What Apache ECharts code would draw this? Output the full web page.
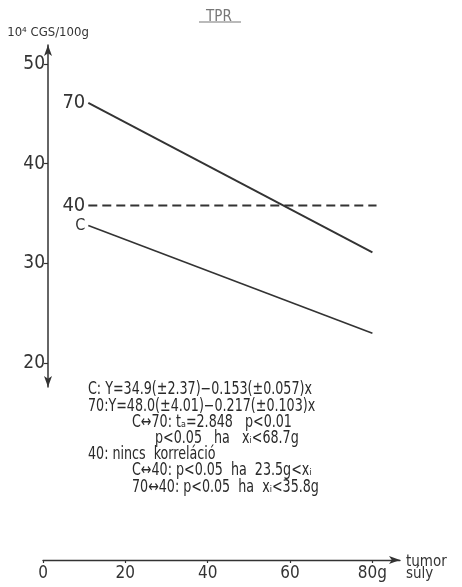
<!DOCTYPE html>
<html>
<head>
<meta charset="utf-8">
<script src="https://cdn.jsdelivr.net/npm/echarts@6/dist/echarts.min.js"></script>
<style>
  html, body { margin: 0; padding: 0; background: #ffffff; }
  #chart { width: 462px; height: 587px; }
</style>
</head>
<body>
<div id="chart"></div>
<script>
// Regression lines of TPR against tumour weight, per group
const groupNames = ['70', '40', 'C'];
const xStart = [11, 11, 11];        // g
const xEnd = [80, 81, 80];          // g
const yStart = [46.1, 35.8, 33.8];  // 10^4 CGS/100g
const yEnd = [31.1, 35.8, 23.0];

const yTicks = [20, 30, 40, 50];
const xTicks = [0, 20, 40, 60, 80];

const titleText = 'TPR';
const yName = '10⁴ CGS/100g';
const xName = 'tumor\nsúly';

// Statistics printed beneath the lines
const noteLines = [
  'C: Y=34.9(±2.37)−0.153(±0.057)x',
  '70:Y=48.0(±4.01)−0.217(±0.103)x',
  'C↔70: tₐ=2.848   p<0.01',
  'p<0.05   ha   xᵢ<68.7g',
  '40: nincs  korreláció',
  'C↔40: p<0.05  ha  23.5g<xᵢ',
  '70↔40: p<0.05  ha  xᵢ<35.8g'
];
const noteIndent = [0, 0, 1, 2, 0, 1, 1];

const ink = '#333333';
const font = "'DejaVu Sans Condensed', 'DejaVu Sans', sans-serif";

const series = groupNames.map((name, i) => ({
  name: name,
  type: 'line',
  xAxisIndex: 0,
  yAxisIndex: 0,
  symbol: 'circle',
  symbolSize: 0,
  showSymbol: true,
  silent: true,
  itemStyle: { color: ink },
  lineStyle: {
    color: ink,
    width: name === 'C' ? 1.6 : 1.9,
    type: name === '40' ? [9, 5] : 'solid'
  },
  label: { show: false },
  data: [
    {
      value: [xStart[i], yStart[i]],
      label: {
        show: true,
        position: 'left',
        distance: 3,
        formatter: name,
        color: ink,
        fontFamily: font,
        fontSize: name === 'C' ? 16 : 20
      }
    },
    [xEnd[i], yEnd[i]]
  ]
}));

const noteX = [88, 132, 155];
const noteY0 = 390, noteStep = 16.2;
const graphics = noteLines.map((t, i) => ({
  type: 'text',
  x: noteX[noteIndent[i]],
  y: noteY0 + i * noteStep,
  scaleX: 0.83,
  silent: true,
  style: {
    text: t,
    fill: '#2a2a2a',
    font: '17px ' + font,
    verticalAlign: 'middle',
    align: 'left'
  }
}));
// underline of the title
graphics.push({
  type: 'line',
  silent: true,
  shape: { x1: 199, y1: 22, x2: 241, y2: 22 },
  style: { stroke: '#777777', lineWidth: 1.2 }
});

const chart = echarts.init(document.getElementById('chart'), null, { renderer: 'canvas' });
chart.setOption({
  backgroundColor: '#ffffff',
  animation: false,
  title: {
    text: titleText,
    left: 201,
    top: 5,
    textStyle: { color: '#777777', fontFamily: font, fontSize: 15, fontWeight: 'normal' }
  },
  grid: [
    { left: 43, right: 62, top: 45, height: 342 },
    { left: 43, right: 62, top: 550, height: 10 }
  ],
  xAxis: [
    { type: 'value', gridIndex: 0, min: 0, max: 86.7, show: false },
    {
      type: 'value',
      gridIndex: 1,
      min: 0,
      max: 86.7,
      position: 'bottom',
      splitLine: { show: false },
      axisLine: {
        show: true,
        lineStyle: { color: ink, width: 1.4 },
        symbol: ['none', 'arrow'],
        symbolSize: [6, 11]
      },
      axisTick: { show: true, customValues: xTicks, length: 3, lineStyle: { color: ink, width: 1.2 } },
      axisLabel: {
        customValues: xTicks,
        margin: 5,
        color: ink,
        fontFamily: font,
        fontSize: 17,
        formatter: v => (v === 80 ? '80g' : String(v))
      },
      name: xName,
      nameLocation: 'end',
      nameGap: 6,
      nameTextStyle: {
        color: ink,
        fontFamily: font,
        fontSize: 15,
        lineHeight: 12,
        align: 'left',
        verticalAlign: 'top',
        padding: [-4, 0, 0, 0]
      }
    }
  ],
  yAxis: [
    {
      type: 'value',
      gridIndex: 0,
      min: 17.6,
      max: 51.9,
      offset: -5,
      splitLine: { show: false },
      axisLine: {
        show: true,
        lineStyle: { color: ink, width: 1.5 },
        symbol: ['arrow', 'arrow'],
        symbolSize: [6, 11]
      },
      axisTick: { show: true, customValues: yTicks, length: 4, lineStyle: { color: ink, width: 1.2 } },
      axisLabel: {
        customValues: yTicks,
        margin: 3,
        color: ink,
        fontFamily: font,
        fontSize: 19
      },
      name: yName,
      nameLocation: 'end',
      nameGap: 6,
      nameTextStyle: { color: ink, fontFamily: font, fontSize: 13, align: 'center' }
    },
    { type: 'value', gridIndex: 1, show: false }
  ],
  series: series,
  graphic: graphics
});
</script>
</body>
</html>
